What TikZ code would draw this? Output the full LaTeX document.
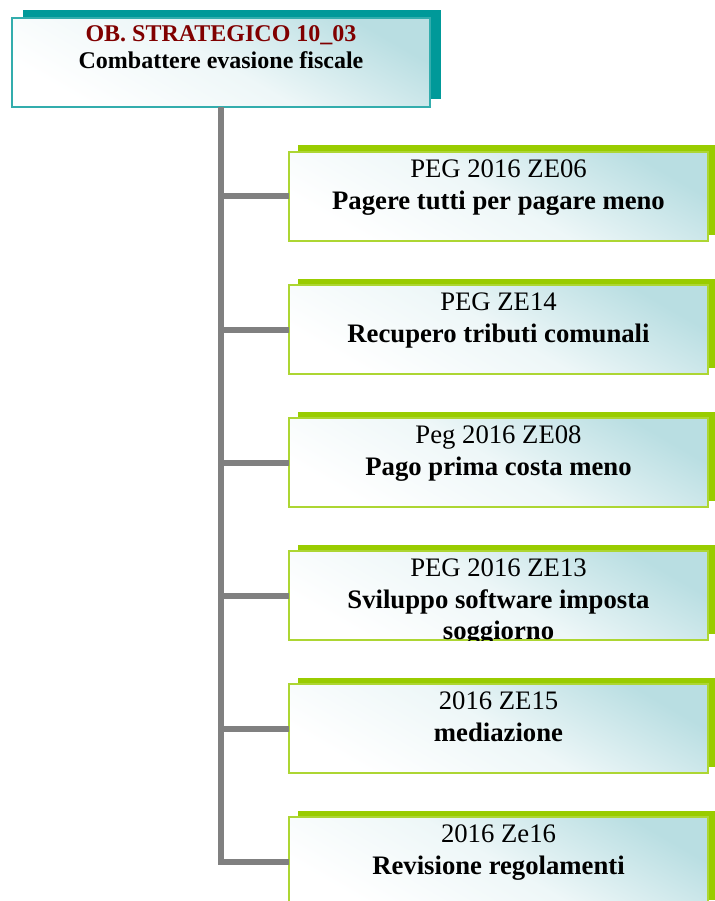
\documentclass[tikz,border=0pt]{standalone}
\usepackage{fontspec}
\setmainfont{Liberation Serif}
\usetikzlibrary{shadows}

\begin{document}
\begin{tikzpicture}[
  x=1pt,y=-1pt,
  box/.style={draw=#1!80!white,line width=2pt,minimum height=89pt,inner sep=0pt,outer sep=0pt,
    top color=tintc,bottom color=white,middle color=tintc!25!white,shading angle=-30},
  goalbox/.style={box=tealc,minimum width=418pt,
    general shadow={fill=tealc,shadow xshift=11pt,shadow yshift=7.5pt}},
  pegbox/.style={box=limec,minimum width=419pt,
    general shadow={fill=limec,shadow xshift=8.5pt,shadow yshift=6.5pt}},
  goaltxt/.style={font=\fontsize{24}{27}\selectfont\bfseries,align=center,inner sep=0pt,anchor=base},
  pegtxt/.style={font=\fontsize{26.7}{31.6}\selectfont,align=center,inner sep=0pt,anchor=base},
  trunk/.style={draw=trunkc,line width=6pt}]

  \definecolor{tealc}{RGB}{0,153,153}
  \definecolor{limec}{RGB}{153,204,0}
  \definecolor{tintc}{RGB}{185,222,226}
  \definecolor{trunkc}{RGB}{128,128,128}
  \definecolor{redc}{RGB}{128,0,0}

  \useasboundingbox (0,0) rectangle (714,901);

  % ---- strategic goal ----
  \node[goalbox] (goal) at (221,62.5) {};
  % base anchor = baseline of the last line
  \node[goaltxt] (goallab) at ([yshift=-51pt]goal.north)
    {\textcolor{redc}{OB. STRATEGICO 10\_03}\\Combattere evasione fiscale};

  % ---- PEG objectives ----
  \node[pegbox] (peg1) at (498.5,196.5) {};
  \node[pegbox] (peg2) at (498.5,329.5) {};
  \node[pegbox] (peg3) at (498.5,462.5) {};
  \node[pegbox] (peg4) at (498.5,595.5) {};
  \node[pegbox] (peg5) at (498.5,728.5) {};
  \node[pegbox] (peg6) at (498.5,861.5) {};

  \node[pegtxt] (peg1lab) at ([yshift=-57.1pt]peg1.north) {PEG 2016 ZE06\\\textbf{Pagere tutti per pagare meno}};
  \node[pegtxt] (peg2lab) at ([yshift=-57.1pt]peg2.north) {PEG ZE14\\\textbf{Recupero tributi comunali}};
  \node[pegtxt] (peg3lab) at ([yshift=-57.1pt]peg3.north) {Peg 2016 ZE08\\\textbf{Pago prima costa meno}};
  % text runs past the box: cut at its edge
  \begin{scope}
    \clip (peg4.north west) rectangle (peg4.south east);
    \node[pegtxt] (peg4lab) at ([yshift=-88.7pt]peg4.north)
      {PEG 2016 ZE13\\\textbf{Sviluppo software imposta}\\\textbf{soggiorno}};
  \end{scope}
  \node[pegtxt] (peg5lab) at ([yshift=-57.1pt]peg5.north) {2016 ZE15\\\textbf{mediazione}};
  \node[pegtxt] (peg6lab) at ([yshift=-57.1pt]peg6.north) {2016 Ze16\\\textbf{Revisione regolamenti}};

  % ---- tree ----
  \draw[trunk] (goal.south) -- (goal.south |- peg6.west) -- (peg6.west);
  \draw[trunk] (goal.south |- peg1.west) -- (peg1.west);
  \draw[trunk] (goal.south |- peg2.west) -- (peg2.west);
  \draw[trunk] (goal.south |- peg3.west) -- (peg3.west);
  \draw[trunk] (goal.south |- peg4.west) -- (peg4.west);
  \draw[trunk] (goal.south |- peg5.west) -- (peg5.west);
\end{tikzpicture}
\end{document}
